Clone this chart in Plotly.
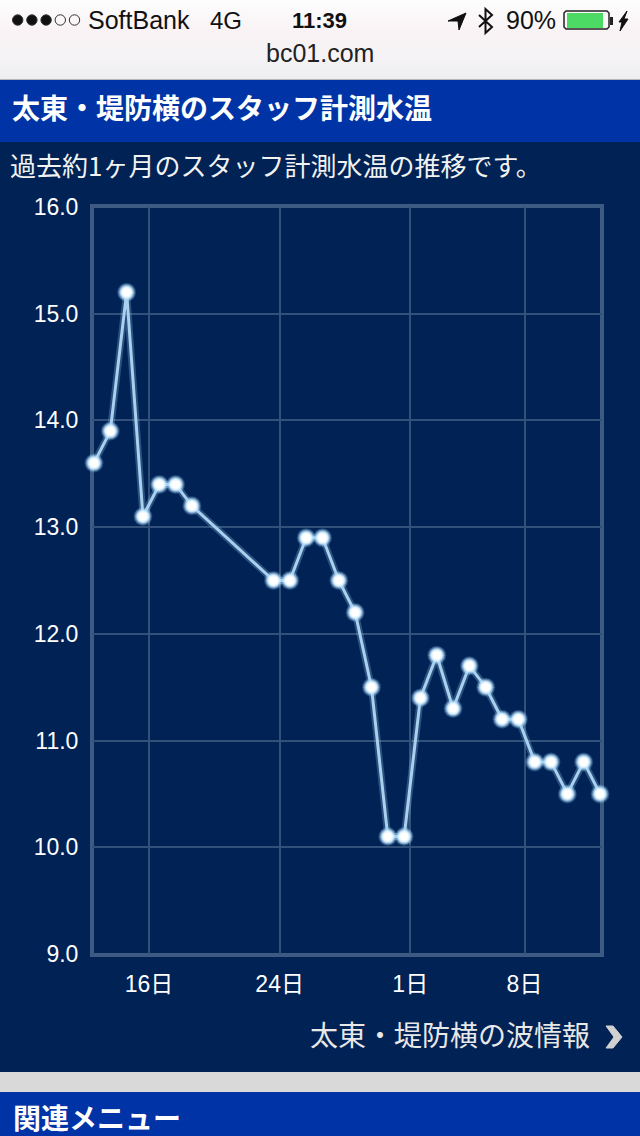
import plotly.graph_objects as go

# ---- data ----
dates = ["2013-12-12", "2013-12-13", "2013-12-14", "2013-12-15", "2013-12-16", "2013-12-17", "2013-12-18",
         "2013-12-23", "2013-12-24", "2013-12-25", "2013-12-26", "2013-12-27", "2013-12-28", "2013-12-29",
         "2013-12-30", "2013-12-31", "2014-01-01", "2014-01-02", "2014-01-03", "2014-01-04", "2014-01-05",
         "2014-01-06", "2014-01-07", "2014-01-08", "2014-01-09", "2014-01-10", "2014-01-11", "2014-01-12"]
temps = [13.6, 13.9, 15.2, 13.1, 13.4, 13.4, 13.2,
         12.5, 12.5, 12.9, 12.9, 12.5, 12.2, 11.5,
         10.1, 10.1, 11.4, 11.8, 11.3, 11.7, 11.5,
         11.2, 11.2, 10.8, 10.8, 10.5, 10.8, 10.5]
x_tick_dates = ["2013-12-16", "2013-12-24", "2014-01-01", "2014-01-08"]
x_tick_labels = ["16日", "24日", "1日", "8日"]
y_ticks = [9, 10, 11, 12, 13, 14, 15, 16]
y_tick_labels = ["9.0", "10.0", "11.0", "12.0", "13.0", "14.0", "15.0", "16.0"]
times = [d + " 15:00" for d in dates]

W, H = 640, 1136
L, R, T, B = 92, 602, 207, 954
JP = "Noto Sans CJK JP, sans-serif"
LAT = "Liberation Sans, Noto Sans CJK JP, sans-serif"
NAVY, BLUE = "#002255", "#0033a6"


def px(x):
    return (x - L) / (R - L)


def py(y):
    return (B - y) / (B - T)


def rect(x0, y0, x1, y1, color):
    return dict(type="rect", xref="paper", yref="paper", x0=px(x0), x1=px(x1), y0=py(y0), y1=py(y1),
                fillcolor=color, line_width=0, layer="below")


def circle(cx, cy, r, fill, line=None):
    return dict(type="circle", xref="paper", yref="paper", x0=px(cx - r), x1=px(cx + r), y0=py(cy - r), y1=py(cy + r),
                fillcolor=fill, line=dict(color=line or fill, width=1), layer="above")


def label(x, y, s, size, color="#ffffff", anchor="left", family=LAT, bold=False):
    txt = f"<b>{s}</b>" if bold else s
    return dict(xref="paper", yref="paper", x=px(x), y=py(y), text=txt, showarrow=False, xanchor=anchor,
                yanchor="middle", font=dict(family=family, size=size, color=color), xshift=0, yshift=0)


def path(points, fill="#111111", close=True, line=None, width=1):
    d = "M " + " L ".join(f"{px(a)},{py(b)}" for a, b in points) + (" Z" if close else "")
    return dict(type="path", xref="paper", yref="paper", path=d, fillcolor=fill if close else "rgba(0,0,0,0)",
                line=dict(color=line or fill, width=width), layer="above")


shapes = [rect(0, 0, W, H, NAVY)]
# browser chrome gradient
stops = [(0, (253, 253, 253)), (30, (249, 243, 245)), (55, (245, 243, 245)), (79, (238, 238, 240))]
for y in range(0, 79):
    for (a, ca), (b, cb) in zip(stops, stops[1:]):
        if a <= y <= b:
            f = (y - a) / (b - a)
            c = tuple(round(p + (q - p) * f) for p, q in zip(ca, cb))
            shapes.append(rect(0, y, W, y + 1, f"rgb{c}"))
            break
shapes += [rect(0, 79, W, 80, "#b5b5b8"), rect(0, 80, W, 142, BLUE), rect(0, 1072, W, 1092, "#d9d9d9"),
           rect(0, 1092, W, 1136, BLUE)]
# chart frame
shapes.append(dict(type="rect", xref="paper", yref="paper", x0=0, x1=1, y0=py(955), y1=py(206),
                   fillcolor="rgba(0,0,0,0)", line=dict(color="#3c5a82", width=4), layer="below"))
# signal dots
for i in range(5):
    shapes.append(circle(17.7 + 14.2 * i, 20, 5.2, "#111111" if i < 3 else "rgba(0,0,0,0)", "#333333"))
# location arrow
shapes.append(path([(448, 21), (466, 13), (459, 30), (458, 21)]))
# bluetooth
shapes.append(path([(479, 15), (492, 27), (485.5, 33), (485.5, 9), (492, 15), (479, 27)], close=False, line="#111111", width=2))
# battery
shapes.append(path([(566, 11), (607, 11), (609, 13), (609, 27), (607, 29), (566, 29), (564, 27), (564, 13)],
                   fill="rgba(0,0,0,0)", line="#222222", width=1.5))
shapes.append(rect(567, 13, 603, 28, "#4cd964") | {"layer": "above"})
shapes.append(rect(610, 17, 613, 25, "#222222") | {"layer": "above"})
shapes.append(path([(627, 11), (619, 22), (622, 22), (620, 31), (628, 19), (624, 19)]))
# link chevron
shapes.append(path([(606, 1026), (613, 1026), (622, 1037), (613, 1048), (606, 1048), (614, 1037)], fill="#d0d0d0"))

annotations = [
    label(86, 20, "SoftBank", 25, "#111111"),
    label(208, 20, "4G", 24, "#111111"),
    label(319.5, 20, "<b>11:39</b>", 22, "#111111", "center"),
    label(504, 20, "90%", 25, "#111111"),
    label(320, 53, "bc01.com", 25, "#222222", "center"),
    label(10, 107, "太東・堤防横のスタッフ計測水温", 28, "#ffffff", family=JP, bold=True),
    label(8, 165, "過去約1ヶ月のスタッフ計測水温の推移です。", 26, "#f2f2f2", family=JP),
    label(592, 1034, "太東・堤防横の波情報", 28, "#e8e8e8", "right", family=JP),
    label(11, 1117, "関連メニュー", 28, "#ffffff", family=JP, bold=True),
]

fig = go.Figure()
fig.add_trace(go.Scatter(x=times, y=temps, mode="lines", line=dict(color="rgba(150,200,240,0.28)", width=7),
                         cliponaxis=False, hoverinfo="skip", showlegend=False))
fig.add_trace(go.Scatter(x=times, y=temps, mode="lines", line=dict(color="#a9d0ec", width=3),
                         cliponaxis=False, showlegend=False))
# soft halo built from stacked translucent discs, then the white core
for size, colour in [(19, "rgba(150,205,245,0.22)"), (17, "rgba(165,215,250,0.35)"), (15, "rgba(190,228,252,0.5)"),
                     (13, "rgba(215,238,253,0.7)"), (11, "rgba(240,249,255,0.85)"), (8, "#ffffff")]:
    fig.add_trace(go.Scatter(x=times, y=temps, mode="markers", marker=dict(size=size, color=colour, line_width=0),
                             cliponaxis=False, hoverinfo="skip", showlegend=False))

grid = "#31507a"
fig.update_layout(
    width=W, height=H, margin=dict(l=L, r=W - R, t=T, b=H - B, pad=0), autosize=False,
    paper_bgcolor=NAVY, plot_bgcolor=NAVY, showlegend=False, shapes=shapes, annotations=annotations,
    xaxis=dict(type="date", range=["2013-12-12 12:06", "2014-01-12 17:56"], tickmode="array",
               tickvals=x_tick_dates, ticktext=x_tick_labels, showgrid=True, gridcolor=grid, gridwidth=2,
               zeroline=False, showline=False, ticks="outside",
               ticklen=9, tickcolor="rgba(0,0,0,0)", tickfont=dict(family=LAT, size=23, color="#ffffff")),
    yaxis=dict(range=[9, 16], tickmode="array", tickvals=y_ticks, ticktext=y_tick_labels, showgrid=True,
               gridcolor=grid, gridwidth=2, zeroline=False, showline=False,
               ticks="outside", ticklen=8, tickcolor="rgba(0,0,0,0)",
               tickfont=dict(family=LAT, size=23, color="#ffffff")),
)
fig.write_html("out.html", config={"displayModeBar": False},
               post_script="document.body.style.margin='0';document.body.style.background='#002255';document.documentElement.style.overflow='hidden';")
